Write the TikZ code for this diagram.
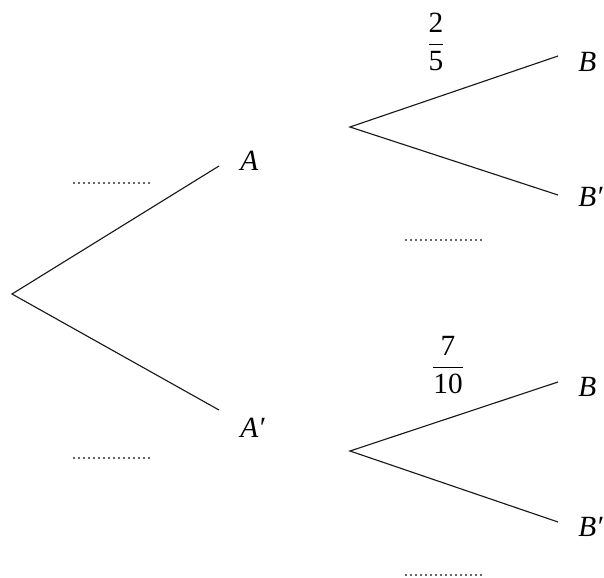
\documentclass[tikz,border=0pt]{standalone}
\usepackage{amsmath}
\usepackage{fontspec}
\setmainfont{Liberation Serif}
\begin{document}
\begin{tikzpicture}[x=0.75pt,y=-0.75pt,
  branch/.style={draw=black!90,line width=0.85pt},
  lbl/.style={anchor=west,inner sep=0pt,font=\fontsize{22}{24}\selectfont\itshape},
  frac/.style={inner sep=0pt,font=\fontsize{22}{24}\selectfont},
  blank/.style={draw=black!60,line width=1.3pt,dash pattern=on 1.2pt off 2.55pt}]
\useasboundingbox (0,0) rectangle (604,578);
% points
\coordinate (r) at (12,294);
\coordinate (a) at (219,166);
\coordinate (ap) at (219,410);
\coordinate (s1) at (350,127);
\coordinate (b1) at (558,56);
\coordinate (bp1) at (558,195);
\coordinate (s2) at (350,451);
\coordinate (b2) at (558,382);
\coordinate (bp2) at (558,522);
% labels
\node[lbl] (LA) at (240,161) {A};
\node[lbl] (LAp) at (240,428) {A′};
\node[lbl] (LB1) at (578,62) {B};
\node[lbl] (LBp1) at (578,197) {B′};
\node[lbl] (LB2) at (578,387) {B};
\node[lbl] (LBp2) at (578,527) {B′};
\node[frac] (F1) at (436,42) {$\dfrac{\text{2}}{\text{5}}$};
\node[frac] (F2) at (448,365) {$\dfrac{\text{7}}{\text{10}}$};
% branches
\draw[branch] (a) -- (r) -- (ap);
\draw[branch] (b1) -- (s1) -- (bp1);
\draw[branch] (b2) -- (s2) -- (bp2);
% answer blanks
\coordinate (d1a) at (73,183); \coordinate (d1b) at (150,183);
\coordinate (d2a) at (73,458); \coordinate (d2b) at (150,458);
\coordinate (d3a) at (405,240); \coordinate (d3b) at (482,240);
\coordinate (d4a) at (405,575); \coordinate (d4b) at (482,575);
\draw[blank] (d1a) -- (d1b);
\draw[blank] (d2a) -- (d2b);
\draw[blank] (d3a) -- (d3b);
\draw[blank] (d4a) -- (d4b);
\end{tikzpicture}
\end{document}
